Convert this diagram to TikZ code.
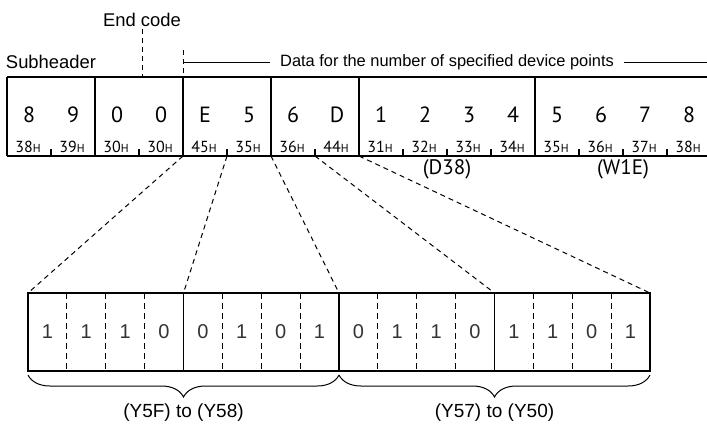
\documentclass[tikz,border=0pt]{standalone}
\usepackage{fontspec}
\setmainfont{Liberation Sans}
\newfontfamily\codefont{PT Sans}
\usetikzlibrary{decorations.pathreplacing}
\newcommand{\hsub}{{\fontsize{5.8}{6}\selectfont H}}

\begin{document}
\begin{tikzpicture}[
    x=0.5pt, y=-0.5pt,
    frame/.style={line width=0.7pt},
    bitsep/.style={line width=0.6pt, dash pattern=on 3pt off 2pt},
    link/.style={line width=0.5pt, dash pattern=on 2.5pt off 2pt},
    lbl/.style={font=\fontsize{9.2}{11}\selectfont, inner sep=1pt},
    chr/.style={font=\codefont\fontsize{11}{13}\selectfont, inner sep=0pt},
    hex/.style={font=\codefont\fontsize{8}{9}\selectfont, inner sep=0pt},
    dev/.style={font=\codefont\fontsize{10.5}{12}\selectfont, inner sep=0pt},
    bit/.style={font=\fontsize{10}{12}\selectfont, text=black!80, inner sep=0pt},
    grp/.style={decorate, decoration={brace, mirror, amplitude=11pt}, line width=0.5pt},
  ]
    \useasboundingbox (0,0) rectangle (707,424);

    % labels above the response
    \node[lbl] (endcode) at (142,20) {End code};
    \node[lbl] (subhdr) at (51,62) {Subheader};
    \node[lbl, font=\fontsize{8.2}{10}\selectfont, inner sep=5pt] (datalbl) at (447,62)
      {Data for the number of specified device points};
    \draw[link] (endcode.south) -- (142,77);
    \coordinate (dstart) at (183,62);
    \coordinate (dend) at (711,62);
    \draw[link] (183,50) -- (183,77);
    \draw[line width=0.5pt] (dstart) -- (datalbl.west);
    \draw[line width=0.5pt] (datalbl.east) -- (dend);

    % response frame
    \draw[frame] (7,77) -- (711,77) (7,156) -- (711,156);
    \foreach \x in {7,95,183,271,359,535,711}
      \draw[frame] (\x,77) -- (\x,156);
    \foreach \k in {1,3,5,7,9,10,11,13,14,15}
      \draw[frame] (7+44*\k,156) -- ++(0,-7);
    \foreach \c [count=\i from 0] in {8,9,0,0,E,5,6,D,1,2,3,4,5,6,7,8}
      \node[chr] (ch\i) at (29+44*\i,115) {\c};
    \foreach \h [count=\i from 0] in {38,39,30,30,45,35,36,44,31,32,33,34,35,36,37,38}
      \node[hex] (hx\i) at (28+44*\i,147) {\h\hsub};
    \node[dev] (d38) at (447,169) {(D38)};
    \node[dev] (w1e) at (623,169) {(W1E)};

    % bit pattern
    \draw[frame] (28,293) rectangle (650,371);
    \foreach \k in {1,2,3,5,6,7,9,10,11,13,14,15}
      \draw[bitsep] (28+38.875*\k,293) -- (28+38.875*\k,371);
    \foreach \k in {4,8,12}
      \draw[frame] (28+38.875*\k,293) -- (28+38.875*\k,371);
    \foreach \b [count=\i from 0] in {1,1,1,0,0,1,0,1,0,1,1,0,1,1,0,1}
      \node[bit] (bt\i) at (47.4+38.875*\i,332) {\b};

    % links from characters to bits
    \coordinate (e0) at (183,156);
    \coordinate (e1) at (227,156);
    \coordinate (e2) at (271,156);
    \coordinate (e3) at (315,156);
    \coordinate (e4) at (359,156);
    \coordinate (n0) at (28,293);
    \coordinate (n1) at (183.5,293);
    \coordinate (n2) at (339,293);
    \coordinate (n3) at (494.5,293);
    \coordinate (n4) at (650,293);
    \foreach \j in {0,...,4}
      \draw[link] (e\j) -- (n\j);

    % device ranges
    \draw[grp] (28,375) -- (339,375);
    \draw[grp] (339,375) -- (650,375);
    \node[lbl, font=\fontsize{9.5}{11}\selectfont] (hibits) at (183.5,413) {(Y5F) to (Y58)};
    \node[lbl, font=\fontsize{9.5}{11}\selectfont] (lobits) at (494.5,413) {(Y57) to (Y50)};
  \end{tikzpicture}
\end{document}
